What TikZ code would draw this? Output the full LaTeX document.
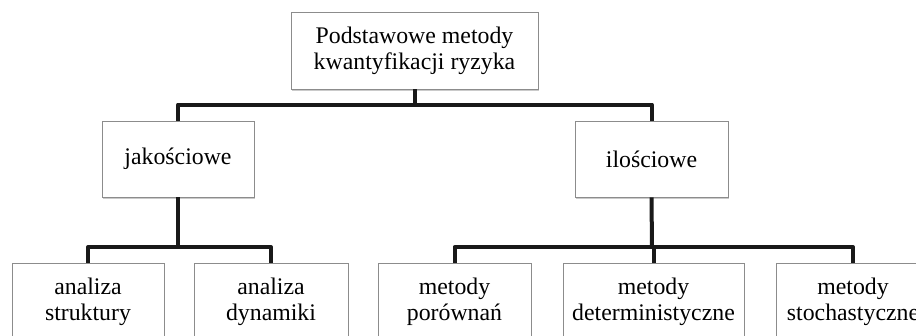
\documentclass[tikz,border=0pt]{standalone}
\usepackage{fontspec}
\setmainfont{Liberation Serif}
\usetikzlibrary{shadows}
\begin{document}
\begin{tikzpicture}[x=1pt,y=-1pt,
  box/.style={draw=black!45, line width=0.9pt, fill=white, rectangle,
    minimum height=77pt, inner sep=0pt, align=center,
    font=\fontsize{23.8}{26}\selectfont,
    drop shadow={shadow xshift=1.2pt, shadow yshift=-1.6pt, opacity=0.35, fill=black!60}},
  conn/.style={line width=4pt, line join=round, draw=black!90}]
\useasboundingbox (0,0) rectangle (916,335);
\node[box, minimum width=247pt] (top) at (414.5,50.5) {Podstawowe metody\\kwantyfikacji ryzyka};
\node[box, minimum width=152pt, minimum height=76pt] (jak) at (178,159) {jakościowe};
\node[box, minimum width=153pt, minimum height=76pt] (ilo) at (651.5,159) {ilościowe};
\node[box, minimum width=152pt] (as) at (88,301.5) {analiza\\struktury};
\node[box, minimum width=154pt] (ad) at (271,301.5) {analiza\\dynamiki};
\node[box, minimum width=153pt] (mp) at (454.5,301.5) {metody\\porównań};
\node[box, minimum width=181pt] (md) at (653.5,301.5) {metody\\deterministyczne};
\node[box, minimum width=154pt] (ms) at (853,301.5) {metody\\stochastyczne};
\coordinate (tb) at (414.5,104.5);
\coordinate (jb) at (178,247);
\coordinate (ib) at (652,247);
\draw[conn] (top.south) -- (tb);
\draw[conn] (jak.north) |- (tb) -| (ilo.north);
\draw[conn] (jak.south) -- (jb);
\draw[conn] (as.north) |- (jb) -| (ad.north);
\draw[conn] (ilo.south) -- (ib);
\draw[conn] (mp.north) |- (ib) -| (ms.north);
\draw[conn] (ib) -| (md.north);
\end{tikzpicture}
\end{document}
